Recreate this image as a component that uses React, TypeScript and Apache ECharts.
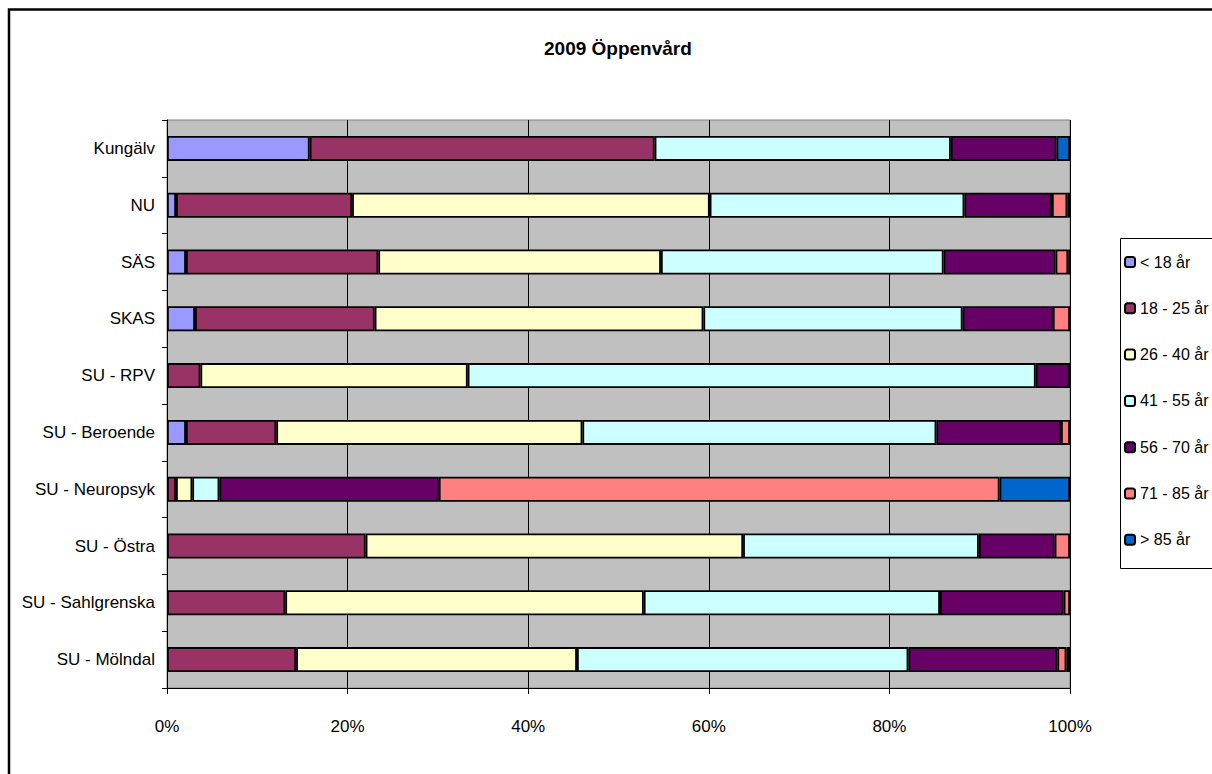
import React, { useEffect, useRef } from "react";
import * as echarts from "echarts";

const categories = [
  "Kungälv",
  "NU",
  "SÄS",
  "SKAS",
  "SU - RPV",
  "SU - Beroende",
  "SU - Neuropsyk",
  "SU - Östra",
  "SU - Sahlgrenska",
  "SU - Mölndal",
];

const seriesNames = ["< 18 år", "18 - 25 år", "26 - 40 år", "41 - 55 år", "56 - 70 år", "71 - 85 år", "> 85 år"];

const under18 = [15.8, 1.0, 2.1, 3.1, 0, 2.1, 0, 0, 0, 0];
const age18to25 = [38.2, 19.5, 21.3, 19.9, 3.7, 10.0, 1.0, 22.0, 13.1, 14.3];
const age26to40 = [0, 39.6, 31.3, 36.4, 29.6, 33.9, 1.8, 41.8, 39.7, 31.1];
const age41to55 = [32.8, 28.2, 31.3, 28.7, 62.9, 39.2, 3.0, 26.1, 32.8, 36.7];
const age56to70 = [11.7, 9.7, 12.4, 10.0, 3.8, 13.8, 24.3, 8.4, 13.7, 16.5];
const age71to85 = [0, 1.7, 1.4, 1.9, 0, 1.0, 62.1, 1.7, 0.7, 1.0];
const over85 = [1.5, 0.3, 0.2, 0, 0, 0, 7.8, 0, 0, 0.4];

const seriesValues = [under18, age18to25, age26to40, age41to55, age56to70, age71to85, over85];
const seriesColors = ["#9999FF", "#993366", "#FFFFCC", "#CCFFFF", "#660066", "#FF8080", "#0066CC"];

const FONT = "'Liberation Sans Narrow', 'Arial Narrow', 'Liberation Sans', Arial, sans-serif";

export default function App() {
  const ref = useRef<HTMLDivElement>(null);

  useEffect(() => {
    if (!ref.current) return;
    const chart = echarts.init(ref.current, null, { renderer: "svg" });
    chart.setOption({
      animation: false,
      backgroundColor: "#FFFFFF",
      textStyle: { fontFamily: FONT, color: "#000" },
      title: {
        text: "2009 Öppenvård",
        left: 544,
        top: 39,
        padding: 0,
        textStyle: { fontFamily: FONT, fontSize: 19, fontWeight: "bold", color: "#000" },
      },
      legend: {
        data: seriesNames,
        orient: "vertical",
        left: 1124,
        top: 252,
        padding: 0,
        itemWidth: 10,
        itemHeight: 10,
        itemGap: 26.3,
        textStyle: { fontFamily: FONT, fontSize: 16, lineHeight: 20, color: "#000" },
      },
      graphic: [
        {
          type: "rect",
          shape: { x: 9, y: 9.5, width: 1400, height: 1000 },
          style: { fill: "none", stroke: "#000", lineWidth: 2.5 },
          silent: true,
        },
        {
          type: "rect",
          shape: { x: 1120.5, y: 238.5, width: 200, height: 330 },
          style: { fill: "none", stroke: "#000", lineWidth: 1 },
          silent: true,
        },
      ],
      grid: {
        left: 167,
        right: 142,
        top: 120,
        bottom: 86,
        show: true,
        backgroundColor: "#C0C0C0",
        borderColor: "#808080",
        borderWidth: 1,
        containLabel: false,
        outerBoundsMode: "none",
      },
      xAxis: {
        type: "value",
        min: 0,
        max: 100,
        interval: 20,
        axisLine: { show: true, lineStyle: { color: "#000", width: 1 } },
        axisTick: { show: true, length: 6, lineStyle: { color: "#000" } },
        axisLabel: {
          formatter: "{value}%",
          margin: 30,
          fontFamily: FONT,
          fontSize: 17,
          color: "#000",
        },
        splitLine: { show: true, lineStyle: { color: "#000", width: 1 } },
      },
      yAxis: {
        type: "category",
        data: categories,
        inverse: true,
        axisLine: { show: true, lineStyle: { color: "#000", width: 1 } },
        axisTick: { show: true, length: 5, lineStyle: { color: "#000" } },
        axisLabel: { margin: 12, fontFamily: FONT, fontSize: 17, color: "#000" },
        splitLine: { show: false },
      },
      series: seriesNames.map((name, i) => ({
        name,
        type: "bar",
        stack: "total",
        barWidth: 25,
        data: seriesValues[i].map((v) => (v === 0 ? null : v)),
        itemStyle: { color: seriesColors[i], borderColor: "#000", borderWidth: 1.8 },
        emphasis: { disabled: true },
      })),
    });
    return () => chart.dispose();
  }, []);

  return (
    <div
      ref={ref}
      style={{ position: "fixed", left: 0, top: 0, width: 1212, height: 774 }}
    />
  );
}
